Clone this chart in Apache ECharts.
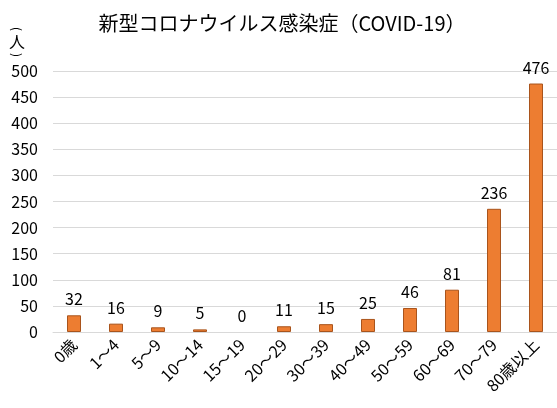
<!DOCTYPE html>
<html>
<head>
<meta charset="utf-8">
<script src="https://cdn.jsdelivr.net/npm/echarts@6/dist/echarts.min.js"></script>
<style>
  html, body { margin: 0; padding: 0; background: #fff; }
  #main { width: 557px; height: 408px; }
</style>
</head>
<body>
<div id="main"></div>
<script>
// 年代別データ
const ageGroups = ['0歳', '1～4', '5～9', '10～14', '15～19', '20～29', '30～39', '40～49', '50～59', '60～69', '70～79', '80歳以上'];
const cases = [32, 16, 9, 5, 0, 11, 15, 25, 46, 81, 236, 476];
const titleText = '新型コロナウイルス感染症（COVID-19）';

const font = '"Noto Sans CJK JP", "Noto Sans", sans-serif';
const chart = echarts.init(document.getElementById('main'));

// 縦書きの単位ラベル（人）
function unitText(txt, y, rot, size) {
  return {
    type: 'text',
    x: 17,
    y: y,
    rotation: rot,
    style: {
      text: txt,
      font: size + 'px ' + font,
      fill: '#000',
      align: 'center',
      verticalAlign: 'middle'
    }
  };
}

chart.setOption({
  animation: false,
  backgroundColor: '#fff',
  title: {
    text: titleText,
    left: 277,
    top: 8,
    textAlign: 'center',
    textStyle: { fontFamily: font, fontSize: 20, fontWeight: 'normal', color: '#000' }
  },
  graphic: [
    unitText('(', 29, -Math.PI / 2, 12),
    unitText('人', 42, 0, 16),
    unitText(')', 55, -Math.PI / 2, 12)
  ],
  grid: { left: 53, right: 0, top: 71, bottom: 76, containLabel: false },
  xAxis: {
    type: 'category',
    data: ageGroups,
    axisLine: { show: true, lineStyle: { color: '#d9d9d9' } },
    axisTick: { show: false },
    axisLabel: {
      rotate: 45,
      interval: 0,
      margin: 10,
      fontFamily: font,
      fontSize: 16,
      color: '#000'
    }
  },
  yAxis: {
    type: 'value',
    min: 0,
    max: 500,
    interval: 50,
    axisLine: { show: false },
    axisTick: { show: false },
    splitLine: { lineStyle: { color: '#d9d9d9', width: 1 } },
    axisLabel: { fontFamily: font, fontSize: 16, color: '#000', margin: 15 }
  },
  series: [{
    type: 'bar',
    data: cases.map(v => v === 0 ? { value: v, itemStyle: { borderWidth: 0 } } : v),
    barWidth: 14,
    itemStyle: { color: '#ED7D31', borderColor: '#A9541C', borderWidth: 1 },
    label: {
      show: true,
      position: 'top',
      distance: 8,
      fontFamily: font,
      fontSize: 16,
      color: '#000'
    }
  }]
});
</script>
</body>
</html>
